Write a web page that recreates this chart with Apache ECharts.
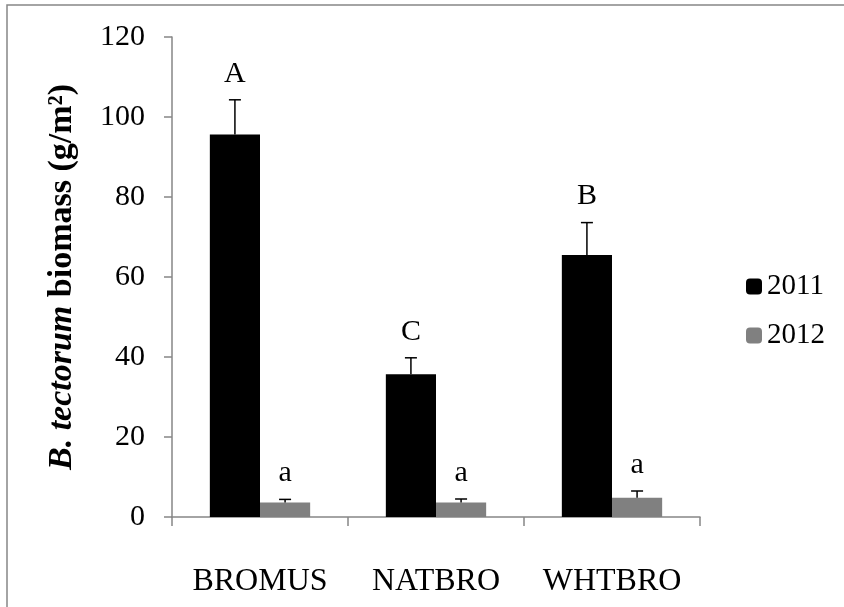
<!DOCTYPE html>
<html><head><meta charset="utf-8">
<script src="https://cdn.jsdelivr.net/npm/echarts@6/dist/echarts.min.js"></script>
<style>html,body{margin:0;padding:0;background:#fff}#c{width:844px;height:607px}</style>
</head><body><div id="c"></div>
<script>
var categories = ['BROMUS', 'NATBRO', 'WHTBRO'];
var values2011 = [95.6, 35.7, 65.5];
var errors2011 = [8.7, 4.1, 8.1];
var letters2011 = ['A', 'C', 'B'];
var values2012 = [3.6, 3.6, 4.8];
var errors2012 = [0.8, 0.9, 1.7];
var letters2012 = ['a', 'a', 'a'];
var yTicks = [0, 20, 40, 60, 80, 100, 120];

var FONT = 'Liberation Serif';
var GAP = 0.43;

function errSeries(vals, errs, letters, side) {
  var data = vals.map(function (v, i) { return [i, v, errs[i], letters[i]]; });
  return {
    type: 'custom',
    silent: true,
    z: 5,
    data: data,
    encode: { x: 0, y: 1 },
    renderItem: function (params, api) {
      var idx = api.value(0);
      var v = api.value(1), e = api.value(2);
      var letter = data[params.dataIndex][3];
      var catW = api.size([1, 0])[0];
      var bw = catW * (1 - GAP) / 2;
      var base = api.coord([idx, v]);
      var top = api.coord([idx, v + e]);
      var x = base[0] + side * bw / 2;
      var cap = 6;
      return {
        type: 'group',
        children: [
          { type: 'line', shape: { x1: x, y1: base[1], x2: x, y2: top[1] }, style: { stroke: '#000', lineWidth: 1.5 } },
          { type: 'line', shape: { x1: x - cap, y1: top[1], x2: x + cap, y2: top[1] }, style: { stroke: '#000', lineWidth: 1.5 } },
          { type: 'text', style: { text: letter, x: x, y: top[1] - 26, align: 'center', verticalAlign: 'middle', font: '30px "' + FONT + '"', fill: '#000' } }
        ]
      };
    }
  };
}

var chart = echarts.init(document.getElementById('c'));
chart.setOption({
  animation: false,
  backgroundColor: '#fff',
  textStyle: { fontFamily: FONT },
  graphic: [{ type: 'rect', shape: { x: 7, y: 5, width: 900, height: 700 }, style: { fill: 'none', stroke: '#868686', lineWidth: 1.5 }, silent: true }],
  grid: { left: 172, right: 144, top: 37, bottom: 90 },
  legend: {
    orient: 'vertical', left: 741, top: 267,
    itemWidth: 16, itemHeight: 16, itemGap: 20,
    textStyle: { fontFamily: FONT, fontSize: 29, color: '#000' },
    data: ['2011', '2012']
  },
  xAxis: {
    type: 'category', data: categories,
    axisLine: { lineStyle: { color: '#868686', width: 1.5 } },
    axisTick: { show: true, length: 9, lineStyle: { color: '#868686', width: 1.5 } },
    axisLabel: { color: '#000', fontFamily: FONT, fontSize: 32, margin: 49, interval: 0, hideOverlap: false }
  },
  yAxis: {
    type: 'value', min: yTicks[0], max: yTicks[yTicks.length - 1], interval: 20,
    name: '{bi|B. tectorum} biomass (g/m²)',
    nameLocation: 'middle', nameRotate: 90, nameGap: 93,
    nameTextStyle: {
      fontFamily: FONT, fontSize: 34, fontWeight: 'bold', color: '#000',
      rich: { bi: { fontFamily: FONT, fontSize: 34, fontWeight: 'bold', fontStyle: 'italic', color: '#000' } }
    },
    axisLine: { show: true, lineStyle: { color: '#868686', width: 1.5 } },
    axisTick: { show: true, length: 8, lineStyle: { color: '#868686', width: 1.5 } },
    splitLine: { show: false },
    axisLabel: { color: '#000', fontFamily: FONT, fontSize: 30, margin: 27 }
  },
  series: [
    { name: '2011', type: 'bar', data: values2011, barGap: 0, barCategoryGap: (GAP * 100) + '%', itemStyle: { color: '#000' } },
    { name: '2012', type: 'bar', data: values2012, barGap: 0, barCategoryGap: (GAP * 100) + '%', itemStyle: { color: '#808080' } },
    errSeries(values2011, errors2011, letters2011, -1),
    errSeries(values2012, errors2012, letters2012, 1)
  ]
});
</script>
</body></html>
